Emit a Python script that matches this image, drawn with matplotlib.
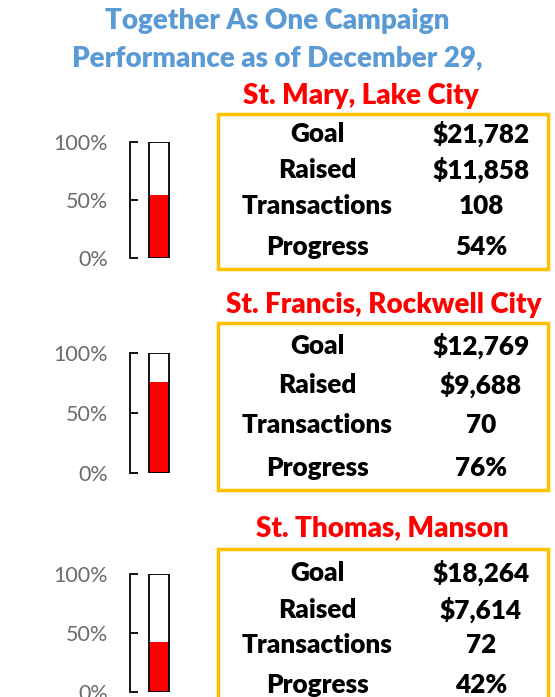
import matplotlib
matplotlib.use("Agg")
import matplotlib.pyplot as plt
from matplotlib.patches import Rectangle
from matplotlib.ticker import PercentFormatter

plt.rcParams["font.family"] = ["Lato", "DejaVu Sans"]

W, H = 555, 697

title_lines = ["Together As One Campaign", "Performance as of December 29,"]
parishes = ["St. Mary, Lake City", "St. Francis, Rockwell City", "St. Thomas, Manson"]
row_labels = ["Goal", "Raised", "Transactions", "Progress"]
goals = ["$21,782", "$12,769", "$18,264"]
raised = ["$11,858", "$9,688", "$7,614"]
transactions = ["108", "70", "72"]
progress = [0.54, 0.76, 0.42]

# layout (pixels, top-left origin)
name_x = [361, 384, 382]
name_y = [96, 305, 528]
box_top = [114, 323, 549]
box_bot = [269, 490, 720]
row_y = [[134, 170, 206, 247], [346, 385, 425, 468], [573, 610, 645, 685]]
gauge_top = [142, 353, 574]
gauge_bot = [258, 473, 692]


def fx(x):
    return x / W


def fy(y):
    return 1 - y / H


fig = plt.figure(figsize=(W / 100, H / 100), dpi=100)

for i, line in enumerate(title_lines):
    fig.text(fx(277), fy(21 + 37 * i), line, color="#5B9BD5", fontsize=20,
             fontweight="heavy", ha="center", va="center")

for k, name in enumerate(parishes):
    fig.text(fx(name_x[k]), fy(name_y[k]), name, color="#FF0000", fontsize=20,
             fontweight="heavy", ha="center", va="center")
    fig.patches.append(Rectangle((fx(218), fy(box_bot[k])), fx(548) - fx(218),
                                 fy(box_top[k]) - fy(box_bot[k]), fill=False,
                                 edgecolor="#FFC000", linewidth=2.5,
                                 transform=fig.transFigure, figure=fig))
    vals = [goals[k], raised[k], transactions[k], f"{progress[k]:.0%}"]
    for j, lab in enumerate(row_labels):
        fig.text(fx(317), fy(row_y[k][j]), lab, fontsize=18.8, fontweight="heavy",
                 ha="center", va="center", color="black")
        fig.text(fx(481), fy(row_y[k][j]), vals[j], fontsize=18.8,
                 fontweight="heavy", ha="center", va="center", color="black")

    # thermometer gauge
    ax = fig.add_axes([fx(130), fy(gauge_bot[k]), fx(171) - fx(130),
                       fy(gauge_top[k]) - fy(gauge_bot[k])])
    ax.bar([0], [progress[k]], width=1, color="#FF0000", linewidth=0)
    ax.bar([0], [1], width=1, facecolor="none", edgecolor="black", linewidth=1.3)
    ax.set_xlim(-1.45, 0.6)
    ax.set_ylim(0, 1)
    ax.set_yticks([0, 0.5, 1])
    ax.yaxis.set_major_formatter(PercentFormatter(1.0, decimals=0))
    ax.tick_params(axis="y", direction="in", length=6, width=1.3, pad=16,
                   labelsize=15.5, labelcolor="#6b6b6b")
    ax.set_xticks([])
    for s in ["top", "right", "bottom"]:
        ax.spines[s].set_visible(False)
    ax.spines["left"].set_linewidth(1.3)
    ax.patch.set_alpha(0)

fig.savefig("out.png", dpi=100)
